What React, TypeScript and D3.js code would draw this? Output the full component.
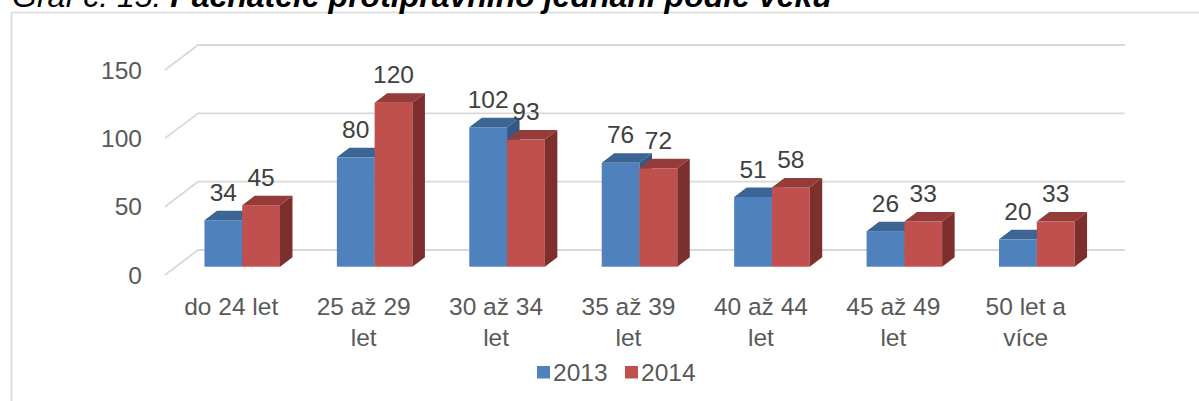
import React, { useRef, useEffect } from 'react'
import { select, scaleLinear, scaleBand } from 'd3'

const categories = ['do 24 let', '25 až 29 let', '30 až 34 let', '35 až 39 let', '40 až 44 let', '45 až 49 let', '50 let a více']
const series = ['2013', '2014']
const values2013 = [34, 80, 102, 76, 51, 26, 20]
const values2014 = [45, 120, 93, 72, 58, 33, 33]
const yTicks = [0, 50, 100, 150]

const frontColors = ['#4F81BD', '#C0504D']
const topColors = ['#3C6494', '#953C3A']
const sideColors = ['#355883', '#7D2F2D']
const textColor = '#595959'
const gridColor = '#D9D9D9'
const font = '"Liberation Sans", Arial, sans-serif'

export default function App() {
    const svgRef = useRef<SVGSVGElement>(null)
    const width = 1199
    const height = 401

    // 3D offsets: wall depth, bar front plane, bar depth
    const wall = { dx: 33, dy: -25 }
    const barFront = { dx: 11, dy: -8.3 }
    const barDepth = { dx: 12.5, dy: -9.5 }

    useEffect(() => {
        draw()
    }, [])

    const draw = () => {
        const svg = select(svgRef.current)
        svg.selectAll('*').remove()

        const x0 = scaleBand().domain(categories).range([165, 1092]).padding(0)
        const x1 = scaleBand().domain(series).range([0, x0.bandwidth()]).paddingInner(0).paddingOuter(0.753)
        const y = scaleLinear().domain([0, 150]).range([275, 70])

        // frame
        svg.append('path')
            .attr('d', `M11.5,${height + 2} V12.5 H${width + 2}`)
            .attr('fill', 'none')
            .attr('stroke', gridColor)
            .attr('stroke-width', 1.6)

        // title (cut at the top)
        const title = svg.append('text')
            .attr('x', 12)
            .attr('y', 7)
            .attr('font-family', font)
            .attr('font-size', 32)
            .attr('font-style', 'italic')
            .attr('fill', '#000')
        title.append('tspan').text('Graf č. 15: ')
        title.append('tspan').attr('font-weight', 'bold').text('Pachatelé protiprávního jednání podle věku')

        // gridlines
        const x0start = x0.range()[0]
        const x0end = x0.range()[1]
        svg.append('g')
            .selectAll('path')
            .data(yTicks)
            .join('path')
            .attr('d', d => `M${x0start},${y(d)} L${x0start + wall.dx},${y(d) + wall.dy} H${x0end + wall.dx}`)
            .attr('fill', 'none')
            .attr('stroke', gridColor)
            .attr('stroke-width', 1.8)

        // y axis labels
        svg.append('g')
            .selectAll('text')
            .data(yTicks)
            .join('text')
            .attr('x', 142)
            .attr('y', d => y(d))
            .attr('dy', '0.35em')
            .attr('text-anchor', 'end')
            .attr('font-family', font)
            .attr('font-size', 24.5)
            .attr('fill', textColor)
            .text(d => d)

        // bars
        const rows = categories.map((c, i) => ({ c, vals: [values2013[i], values2014[i]] }))
        const bars = svg.append('g')
        rows.forEach(r => {
            r.vals.forEach((v, si) => {
                const bx = (x0(r.c) ?? 0) + (x1(series[si]) ?? 0) + barFront.dx
                const bw = x1.bandwidth()
                const yTop = y(v) + barFront.dy
                const yBot = y(0) + barFront.dy
                const g = bars.append('g')
                g.append('rect')
                    .attr('x', bx).attr('y', yTop)
                    .attr('width', bw).attr('height', yBot - yTop)
                    .attr('fill', frontColors[si])
                g.append('path')
                    .attr('d', `M${bx},${yTop} L${bx + barDepth.dx},${yTop + barDepth.dy} H${bx + bw + barDepth.dx} L${bx + bw},${yTop} Z`)
                    .attr('fill', topColors[si])
                g.append('path')
                    .attr('d', `M${bx + bw},${yTop} L${bx + bw + barDepth.dx},${yTop + barDepth.dy} V${yBot + barDepth.dy} L${bx + bw},${yBot} Z`)
                    .attr('fill', sideColors[si])
            })
        })

        // data labels
        rows.forEach(r => {
            r.vals.forEach((v, si) => {
                const cx = (x0(r.c) ?? 0) + (x1(series[si]) ?? 0) + barFront.dx + x1.bandwidth() / 2
                svg.append('text')
                    .attr('x', cx)
                    .attr('y', y(v) + barFront.dy + barDepth.dy - 10)
                    .attr('text-anchor', 'middle')
                    .attr('font-family', font)
                    .attr('font-size', 24.5)
                    .attr('fill', '#404040')
                    .text(v)
            })
        })

        // category labels, wrapped
        const catG = svg.append('g')
        categories.forEach(c => {
            const t = catG.append('text')
                .attr('x', (x0(c) ?? 0) + x0.bandwidth() / 2)
                .attr('y', 315)
                .attr('text-anchor', 'middle')
                .attr('font-family', font)
                .attr('font-size', 24.5)
                .attr('fill', textColor)
            const words = c.split(' ')
            const lines: string[] = []
            let line: string[] = []
            const probe = t.append('tspan')
            words.forEach(w => {
                line.push(w)
                probe.text(line.join(' '))
                if ((probe.node() as SVGTSpanElement).getComputedTextLength() > 105 && line.length > 1) {
                    line.pop()
                    lines.push(line.join(' '))
                    line = [w]
                }
            })
            lines.push(line.join(' '))
            probe.remove()
            lines.forEach((l, li) => {
                t.append('tspan')
                    .attr('x', (x0(c) ?? 0) + x0.bandwidth() / 2)
                    .attr('dy', li === 0 ? 0 : 30.5)
                    .text(l)
            })
        })

        // legend
        const legend = svg.append('g').attr('transform', 'translate(537, 372)')
        const items = legend.selectAll('g')
            .data(series)
            .join('g')
            .attr('transform', (d, i) => `translate(${i * 88}, 0)`)
        items.append('rect')
            .attr('x', 0).attr('y', -6)
            .attr('width', 13).attr('height', 12.5)
            .attr('fill', (d, i) => frontColors[i])
        items.append('text')
            .attr('x', 16)
            .attr('dy', '0.35em')
            .attr('font-family', font)
            .attr('font-size', 24.5)
            .attr('fill', textColor)
            .text(d => d)
    }

    return (
        <svg ref={svgRef} width={width} height={height}
            style={{ position: 'absolute', left: 0, top: 0, background: '#fff' }}></svg>
    )
}
